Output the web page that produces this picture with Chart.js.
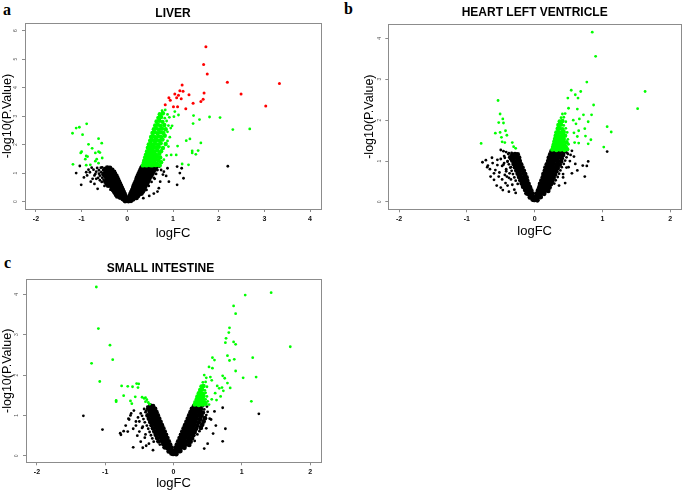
<!DOCTYPE html>
<html>
<head>
<meta charset="utf-8">
<script src="https://cdn.jsdelivr.net/npm/chart.js@4/dist/chart.umd.min.js"></script>
<style>
  body { margin: 0; background: #fff; }
  #page { position: relative; width: 685px; height: 492px; overflow: hidden; }
  canvas { position: absolute; }
  .tag { position: absolute; font: bold 16px "Liberation Serif", "Times New Roman", serif; line-height: 16px; color: #000; }
</style>
</head>
<body>
<div id="page">
  <div class="tag" style="left:3px;top:2px">a</div>
  <div class="tag" style="left:344px;top:1px">b</div>
  <div class="tag" style="left:4px;top:255px">c</div>
  <canvas id="liverChart" width="340" height="245" style="left:0;top:0"></canvas>
  <canvas id="heartChart" width="345" height="245" style="left:340px;top:0"></canvas>
  <canvas id="intestineChart" width="340" height="247" style="left:0;top:245px"></canvas>
</div>
<script>
// tick values of the three panels
var liverXTicks = [-2, -1, 0, 1, 2, 3, 4];
var liverYTicks = [0, 1, 2, 3, 4, 5, 6];
var smallXTicks = [-2, -1, 0, 1, 2];
var smallYTicks = [0, 1, 2, 3, 4];

// LIVER: [logFC, -log10(P.Value)]
var liverRed = [
  [1.72,5.44],[1.67,4.81],[1.75,4.48],[2.19,4.19],[3.33,4.15],[1.20,4.09],[1.15,3.89],[1.22,3.87],
  [1.68,3.81],[1.04,3.78],[1.12,3.73],[1.35,3.75],[2.49,3.78],[0.91,3.65],[1.08,3.65],[0.94,3.56],
  [1.18,3.61],[1.66,3.59],[1.61,3.51],[1.44,3.45],[0.83,3.40],[1.01,3.33],[1.10,3.33],[1.28,3.26],[3.03,3.36]
];
// the crowded green wedge
var liverGreenCore = [
  [0.34,1.27],[0.38,1.29],[0.42,1.27],[0.46,1.30],[0.50,1.28],[0.54,1.27],[0.58,1.30],[0.62,1.28],[0.66,1.29],[0.71,1.27],
  [0.36,1.36],[0.40,1.34],[0.44,1.37],[0.48,1.35],[0.52,1.38],[0.56,1.35],[0.60,1.37],[0.65,1.34],[0.74,1.38],
  [0.37,1.44],[0.41,1.47],[0.45,1.45],[0.49,1.48],[0.53,1.44],[0.57,1.46],[0.62,1.49],[0.68,1.45],
  [0.39,1.55],[0.43,1.57],[0.47,1.54],[0.51,1.58],[0.55,1.56],[0.60,1.53],[0.66,1.57],[0.72,1.55],
  [0.41,1.65],[0.45,1.67],[0.49,1.64],[0.53,1.68],[0.58,1.66],[0.63,1.64],[0.70,1.68],
  [0.43,1.76],[0.47,1.79],[0.51,1.77],[0.55,1.80],[0.60,1.76],[0.66,1.79],[0.74,1.77],
  [0.45,1.89],[0.49,1.92],[0.53,1.88],[0.58,1.91],[0.63,1.89],[0.69,1.92],[0.78,1.88],
  [0.47,2.01],[0.51,2.04],[0.56,2.00],[0.61,2.03],[0.67,2.01],[0.73,2.05],[0.84,2.02],
  [0.50,2.14],[0.54,2.17],[0.59,2.13],[0.64,2.16],[0.70,2.14],[0.77,2.18],
  [0.52,2.27],[0.57,2.30],[0.62,2.26],[0.68,2.29],[0.74,2.27],[0.82,2.31],
  [0.55,2.41],[0.60,2.44],[0.66,2.40],[0.72,2.43],[0.79,2.41],
  [0.58,2.54],[0.63,2.57],[0.69,2.53],[0.76,2.56],[0.84,2.54],
  [0.61,2.67],[0.67,2.70],[0.73,2.66],[0.81,2.69],
  [0.64,2.81],[0.70,2.84],[0.77,2.80],[0.68,2.94],[0.74,2.97],[0.71,3.07],[0.78,3.10]
];
var liverGreenOuter = [
  [0.80,1.47],[0.86,1.62],[0.90,1.93],[0.88,2.13],[0.93,2.26],[0.88,2.45],[0.95,2.58],[0.90,2.67],
  [0.86,2.83],[0.82,2.93],[0.92,2.96],[0.88,3.06],[0.76,3.19],[0.83,3.22],
  [1.45,3.02],[1.80,2.97],[2.03,2.95],[1.58,2.88],[1.44,2.74],[2.31,2.53],[2.68,2.55],[1.04,3.16],
  [1.02,2.98],[1.12,3.04],[0.98,2.66],[1.29,2.14],[1.37,2.20],[1.61,2.06],[1.42,1.78],[1.42,1.71],
  [1.55,1.79],[1.50,1.66],[1.07,1.64],[0.96,1.64],[1.20,1.32],[1.34,1.29],[1.10,1.95],
  [-1.20,2.40],[-1.12,2.58],[-1.05,2.61],[-0.89,2.73],[-0.98,2.35],[-1.19,1.31],[-0.85,2.01],[-1.00,1.75],
  [-1.02,1.71],[-0.77,1.87],[-0.90,1.60],[-0.87,1.58],[-0.92,1.49],[-0.81,1.29],[-0.63,2.21],[-0.56,2.05],
  [-0.63,1.75],[-0.60,1.72],[-0.70,1.71],[-0.55,1.53],[-0.67,1.49],[-0.70,1.42],[-0.63,1.35],[-0.90,1.28]
];
// the crowded black V
var liverBlackCore = [
  [0.01,0.03],[0.03,0.02],[0.05,0.04],[0.08,0.03],
  [0.02,0.08],[0.04,0.09],[0.07,0.07],[0.10,0.09],[0.13,0.08],
  [0.04,0.14],[0.06,0.15],[0.09,0.13],[0.12,0.15],[0.16,0.14],[0.20,0.13],
  [0.05,0.20],[0.08,0.21],[0.11,0.19],[0.14,0.21],[0.18,0.20],[0.23,0.19],
  [0.07,0.27],[0.10,0.28],[0.13,0.26],[0.17,0.28],[0.21,0.27],[0.26,0.26],[0.31,0.28],
  [0.09,0.34],[0.12,0.35],[0.15,0.33],[0.19,0.35],[0.23,0.34],[0.28,0.33],[0.34,0.35],
  [0.11,0.41],[0.14,0.42],[0.17,0.40],[0.21,0.42],[0.25,0.41],[0.30,0.40],[0.36,0.42],
  [0.13,0.48],[0.16,0.49],[0.19,0.47],[0.23,0.49],[0.27,0.48],[0.32,0.47],[0.38,0.49],
  [0.14,0.55],[0.17,0.56],[0.21,0.54],[0.25,0.56],[0.29,0.55],[0.34,0.54],[0.40,0.56],
  [0.16,0.62],[0.19,0.63],[0.23,0.61],[0.27,0.63],[0.31,0.62],[0.36,0.61],[0.43,0.63],
  [0.18,0.69],[0.21,0.70],[0.25,0.68],[0.29,0.70],[0.33,0.69],[0.38,0.68],[0.45,0.70],
  [0.20,0.76],[0.23,0.77],[0.27,0.75],[0.31,0.77],[0.35,0.76],[0.40,0.75],[0.47,0.77],
  [0.21,0.83],[0.25,0.84],[0.29,0.82],[0.33,0.84],[0.37,0.83],[0.42,0.82],[0.49,0.84],
  [0.23,0.90],[0.27,0.91],[0.31,0.89],[0.35,0.91],[0.39,0.90],[0.45,0.89],[0.52,0.91],
  [0.25,0.97],[0.29,0.98],[0.33,0.96],[0.37,0.98],[0.42,0.97],[0.48,0.96],[0.55,0.98],
  [0.27,1.04],[0.31,1.05],[0.35,1.03],[0.39,1.05],[0.44,1.04],[0.50,1.03],[0.57,1.05],
  [0.29,1.11],[0.33,1.12],[0.37,1.10],[0.41,1.12],[0.46,1.11],[0.52,1.10],[0.60,1.12],
  [0.31,1.18],[0.35,1.19],[0.39,1.17],[0.43,1.19],[0.48,1.18],[0.54,1.17],[0.62,1.19],
  [0.33,1.23],[0.37,1.24],[0.41,1.22],[0.45,1.24],[0.50,1.23],[0.56,1.22],[0.64,1.24],
  [-0.01,0.03],[-0.03,0.04],[-0.05,0.02],
  [-0.02,0.08],[-0.04,0.09],[-0.07,0.07],[-0.10,0.09],
  [-0.03,0.14],[-0.06,0.15],[-0.09,0.13],[-0.12,0.15],[-0.16,0.14],
  [-0.05,0.20],[-0.08,0.21],[-0.11,0.19],[-0.14,0.21],[-0.18,0.20],[-0.22,0.18],
  [-0.06,0.27],[-0.09,0.28],[-0.12,0.26],[-0.16,0.28],[-0.20,0.27],[-0.25,0.26],
  [-0.08,0.34],[-0.11,0.35],[-0.14,0.33],[-0.18,0.35],[-0.22,0.34],[-0.28,0.33],
  [-0.10,0.41],[-0.13,0.42],[-0.16,0.40],[-0.20,0.42],[-0.25,0.41],[-0.31,0.40],
  [-0.12,0.48],[-0.15,0.49],[-0.18,0.47],[-0.22,0.49],[-0.27,0.48],[-0.33,0.47],
  [-0.14,0.55],[-0.17,0.56],[-0.20,0.54],[-0.24,0.56],[-0.29,0.55],[-0.35,0.54],[-0.42,0.56],
  [-0.16,0.62],[-0.19,0.63],[-0.22,0.61],[-0.26,0.63],[-0.31,0.62],[-0.37,0.61],[-0.45,0.63],
  [-0.18,0.69],[-0.21,0.70],[-0.24,0.68],[-0.28,0.70],[-0.33,0.69],[-0.40,0.68],[-0.48,0.70],
  [-0.20,0.76],[-0.23,0.77],[-0.26,0.75],[-0.30,0.77],[-0.35,0.76],[-0.42,0.75],
  [-0.22,0.83],[-0.25,0.84],[-0.28,0.82],[-0.32,0.84],[-0.38,0.83],[-0.45,0.82],
  [-0.24,0.90],[-0.27,0.91],[-0.31,0.89],[-0.35,0.91],[-0.41,0.90],[-0.48,0.89],
  [-0.27,0.97],[-0.30,0.98],[-0.34,0.96],[-0.38,0.98],[-0.44,0.97],[-0.52,0.96],
  [-0.29,1.04],[-0.33,1.05],[-0.37,1.03],[-0.42,1.05],[-0.48,1.04],
  [-0.33,1.11],[-0.37,1.12],[-0.42,1.10],[-0.47,1.12],[-0.38,1.18],[-0.44,1.19]
];
var liverBlackOuter = [
  [0.42,0.41],[0.47,0.55],[0.53,0.69],[0.58,0.83],[0.63,0.97],[0.66,1.11],[0.70,1.23],
  [-0.26,0.21],[-0.37,0.42],[-0.50,0.55],[-0.56,0.69],[-0.52,0.77],[-0.55,0.84],[-0.64,0.83],
  [-0.60,0.91],[-0.62,0.98],[-0.70,0.97],[-0.57,1.03],[-0.68,1.05],[-0.53,1.11],[-0.62,1.10],
  [-0.74,1.12],[-0.50,1.17],[-0.58,1.19],[-0.66,1.18],
  [-1.04,1.25],[-1.12,1.00],[-1.01,0.59],[-0.90,1.03],[-0.78,1.19],[-0.82,1.03],[-0.95,0.85],[-0.88,0.92],
  [-0.76,0.80],[-0.72,0.62],[-0.65,0.45],[-0.85,1.12],[-0.72,0.92],[-0.68,0.80],[-0.60,0.75],[-0.55,1.20],[-0.80,0.70],
  [2.20,1.24],[1.09,1.23],[1.19,1.17],[0.88,1.17],[1.15,1.00],[0.85,0.90],[1.23,0.82],[0.91,0.70],
  [1.09,0.59],[0.72,0.70],[0.69,0.47],[0.74,1.11],[0.80,1.05],[0.78,0.95],[0.66,0.35],[0.60,0.80],
  [0.58,0.28],[0.48,0.20],[0.35,0.12]
];

// HEART LEFT VENTRICLE
var heartGreenCore = [
  [0.26,1.28],[0.29,1.30],[0.32,1.27],[0.35,1.29],[0.38,1.28],[0.41,1.30],[0.44,1.27],[0.48,1.29],
  [0.27,1.34],[0.30,1.35],[0.33,1.33],[0.36,1.35],[0.39,1.34],[0.42,1.33],[0.46,1.35],
  [0.28,1.40],[0.31,1.41],[0.34,1.39],[0.37,1.41],[0.40,1.40],[0.44,1.39],
  [0.29,1.47],[0.32,1.48],[0.35,1.46],[0.38,1.48],[0.42,1.47],[0.47,1.46],
  [0.30,1.54],[0.33,1.55],[0.36,1.53],[0.39,1.55],[0.43,1.54],
  [0.31,1.62],[0.34,1.63],[0.37,1.61],[0.41,1.63],[0.45,1.62],
  [0.32,1.70],[0.35,1.71],[0.39,1.69],[0.43,1.71],
  [0.34,1.79],[0.37,1.80],[0.41,1.78],[0.35,1.88],[0.39,1.89],[0.37,1.97],[0.41,1.98]
];
var heartGreenOuter = [
  [0.50,1.41],[0.49,1.53],[0.48,1.70],[0.46,1.80],[0.43,1.87],[0.46,1.96],[0.39,2.06],[0.43,2.07],
  [0.41,2.15],[0.45,2.16],
  [0.85,4.15],[0.90,3.56],[0.77,2.93],[1.63,2.70],[0.54,2.73],[0.68,2.70],[0.60,2.62],[0.49,2.54],
  [0.64,2.54],[1.52,2.28],[0.87,2.37],[0.50,2.29],[0.63,2.27],[1.07,1.84],[1.13,1.71],[1.02,1.34],
  [0.79,1.42],[0.83,1.52],[0.75,1.61],[0.84,2.13],[0.79,1.96],[0.74,1.79],[0.72,2.13],[0.66,2.03],
  [0.57,2.00],[0.61,1.91],[0.65,1.74],[0.58,1.69],[0.63,1.60],[0.59,1.45],[0.65,1.44],
  [-0.54,2.48],[-0.51,2.15],[-0.47,2.03],[-0.53,1.94],[-0.46,1.93],[-0.58,1.68],[-0.51,1.70],[-0.43,1.74],
  [-0.49,1.58],[-0.41,1.63],[-0.48,1.47],[-0.44,1.45],[-0.33,1.45],[-0.31,1.35],[-0.28,1.31],[-0.79,1.43]
];
var heartBlackCore = [
  [0.00,0.05],[0.02,0.06],[0.04,0.04],
  [0.02,0.12],[0.04,0.13],[0.06,0.11],[0.09,0.12],
  [0.03,0.20],[0.05,0.21],[0.08,0.19],[0.11,0.21],[0.14,0.20],
  [0.05,0.28],[0.07,0.29],[0.10,0.27],[0.13,0.29],[0.16,0.28],[0.20,0.27],
  [0.07,0.36],[0.09,0.37],[0.12,0.35],[0.15,0.37],[0.18,0.36],[0.22,0.35],
  [0.08,0.44],[0.11,0.45],[0.14,0.43],[0.17,0.45],[0.20,0.44],[0.24,0.43],
  [0.10,0.52],[0.13,0.53],[0.16,0.51],[0.19,0.53],[0.22,0.52],[0.26,0.51],
  [0.12,0.60],[0.15,0.61],[0.18,0.59],[0.21,0.61],[0.24,0.60],[0.28,0.59],
  [0.13,0.68],[0.16,0.69],[0.19,0.67],[0.22,0.69],[0.26,0.68],[0.30,0.67],
  [0.15,0.76],[0.18,0.77],[0.21,0.75],[0.24,0.77],[0.28,0.76],[0.32,0.75],
  [0.16,0.84],[0.19,0.85],[0.22,0.83],[0.26,0.85],[0.30,0.84],[0.34,0.83],
  [0.18,0.92],[0.21,0.93],[0.24,0.91],[0.28,0.93],[0.32,0.92],[0.37,0.91],
  [0.20,1.00],[0.23,1.01],[0.26,0.99],[0.30,1.01],[0.34,1.00],[0.39,0.99],
  [0.21,1.08],[0.24,1.09],[0.27,1.07],[0.31,1.09],[0.35,1.08],[0.40,1.07],
  [0.23,1.16],[0.26,1.17],[0.29,1.15],[0.33,1.17],[0.37,1.16],[0.42,1.15],
  [0.25,1.24],[0.28,1.25],[0.31,1.23],[0.35,1.25],[0.39,1.24],[0.44,1.23],
  [-0.01,0.05],[-0.03,0.06],
  [-0.02,0.12],[-0.04,0.13],[-0.07,0.11],
  [-0.03,0.20],[-0.06,0.21],[-0.09,0.19],[-0.12,0.21],
  [-0.05,0.28],[-0.08,0.29],[-0.11,0.27],[-0.14,0.29],
  [-0.07,0.36],[-0.10,0.37],[-0.13,0.35],[-0.17,0.37],
  [-0.09,0.44],[-0.12,0.45],[-0.15,0.43],[-0.19,0.45],
  [-0.11,0.52],[-0.14,0.53],[-0.17,0.51],[-0.21,0.53],
  [-0.12,0.60],[-0.15,0.61],[-0.19,0.59],[-0.23,0.61],
  [-0.14,0.68],[-0.17,0.69],[-0.21,0.67],[-0.25,0.69],
  [-0.16,0.76],[-0.19,0.77],[-0.23,0.75],[-0.27,0.77],
  [-0.18,0.84],[-0.21,0.85],[-0.25,0.83],[-0.29,0.85],
  [-0.20,0.92],[-0.23,0.93],[-0.27,0.91],[-0.31,0.93],
  [-0.22,1.00],[-0.25,1.01],[-0.29,0.99],[-0.33,1.01],
  [-0.23,1.08],[-0.27,1.09],[-0.31,1.07],[-0.36,1.09],
  [-0.25,1.16],[-0.29,1.17],[-0.33,1.15]
];
var heartBlackOuter = [
  [0.29,0.45],[0.31,0.53],[0.34,0.61],[0.36,0.69],[0.42,0.68],[0.38,0.77],[0.40,0.85],[0.47,0.84],
  [0.43,0.93],[0.45,1.01],[0.52,1.00],[0.47,1.09],[0.49,1.17],
  [-0.25,0.44],[-0.28,0.52],[-0.30,0.60],[-0.38,0.59],[-0.32,0.68],[-0.34,0.76],[-0.42,0.75],
  [-0.36,0.84],[-0.38,0.92],[-0.46,0.91],[-0.40,1.00],[-0.44,1.08],[-0.39,1.17],
  [-0.77,0.97],[-0.69,0.89],[-0.63,1.08],[-0.55,1.03],[-0.50,1.27],[-0.46,1.24],[-0.38,1.19],[-0.53,0.62],
  [-0.60,0.54],[-0.43,0.46],[-0.38,0.25],[-0.47,0.29],[-0.72,1.02],[-0.66,0.80],[-0.58,0.78],[-0.48,0.88],
  [-0.52,0.72],[-0.44,0.66],[-0.40,0.98],[-0.35,0.55],[-0.56,0.40],[-0.62,0.95],[-0.45,1.12],[-0.42,0.80],
  [-0.33,0.42],[-0.30,0.30],[-0.35,0.85],[-0.37,0.70],[-0.41,0.62],[-0.45,0.95],[-0.50,1.05],[-0.55,0.90],
  [-0.48,0.55],[-0.40,0.40],[-0.36,1.05],[-0.34,1.20],[-0.42,1.22],[-0.60,0.70],[-0.65,0.62],[-0.70,0.85],
  [-0.50,0.35],[-0.28,0.22],
  [1.07,1.23],[0.79,0.99],[0.71,0.89],[0.77,0.88],[0.74,0.62],[0.63,0.77],[0.55,0.70],[0.45,0.46],
  [0.58,1.11],[0.53,1.15],[0.60,0.93],[0.50,0.85],[0.48,1.20],[0.55,1.25],[0.42,0.60],[0.36,0.40]
];

// SMALL INTESTINE
var intestineGreenCore = [
  [0.31,1.27],[0.34,1.28],[0.37,1.26],[0.40,1.28],[0.43,1.27],[0.47,1.29],
  [0.32,1.33],[0.35,1.34],[0.38,1.32],[0.41,1.34],[0.45,1.33],
  [0.34,1.40],[0.37,1.41],[0.40,1.39],[0.43,1.41],
  [0.35,1.47],[0.38,1.48],[0.41,1.46],[0.44,1.48],
  [0.37,1.55],[0.40,1.56],[0.43,1.54],[0.39,1.63],[0.42,1.64],[0.41,1.72],[0.44,1.73]
];
var intestineGreenOuter = [
  [0.52,1.27],[0.50,1.35],[0.47,1.40],[0.49,1.47],[0.47,1.56],[0.46,1.62],[0.49,1.71],[0.43,1.82],[0.47,1.83],
  [1.05,3.98],[1.43,4.04],[0.88,3.71],[0.91,3.52],[0.82,3.17],[0.81,3.05],[0.77,2.91],[0.76,2.80],
  [0.88,2.82],[0.91,2.76],[1.71,2.70],[1.16,2.43],[0.57,2.43],[0.60,2.37],[0.79,2.48],[0.82,2.36],
  [0.89,2.39],[0.91,2.10],[1.02,1.93],[1.21,1.95],[1.14,1.35],[0.72,1.98],[0.75,1.92],[0.79,1.80],
  [0.83,1.68],[0.71,1.69],[0.73,1.61],[0.69,1.47],[0.52,2.20],[0.57,2.17],[0.45,2.00],[0.48,1.93],
  [0.54,1.95],[0.56,1.87],[0.64,1.73],[0.67,1.67],[0.61,1.55],[0.63,1.38],[0.56,1.40],
  [-1.13,4.18],[-1.10,3.15],[-0.93,2.74],[-0.89,2.38],[-1.20,2.29],[-1.08,1.84],
  [-0.76,1.73],[-0.67,1.72],[-0.60,1.71],[-0.54,1.79],[-0.51,1.78],[-0.52,1.69],[-0.73,1.49],[-0.84,1.37],
  [-0.84,1.34],[-0.63,1.36],[-0.61,1.29],[-0.56,1.46],[-0.46,1.45],[-0.43,1.42],[-0.41,1.44],[-0.39,1.39],
  [-0.37,1.32],[-0.35,1.28],[-0.41,1.34]
];
var intestineBlackCore = [
  [0.00,0.05],[0.02,0.06],[0.04,0.04],
  [0.02,0.12],[0.04,0.13],[0.07,0.11],[0.10,0.12],
  [0.03,0.20],[0.06,0.21],[0.09,0.19],[0.12,0.21],[0.16,0.20],
  [0.05,0.28],[0.08,0.29],[0.11,0.27],[0.14,0.29],[0.18,0.28],[0.23,0.27],
  [0.07,0.36],[0.10,0.37],[0.13,0.35],[0.16,0.37],[0.20,0.36],[0.25,0.35],
  [0.09,0.44],[0.12,0.45],[0.15,0.43],[0.18,0.45],[0.22,0.44],[0.27,0.43],
  [0.11,0.52],[0.14,0.53],[0.17,0.51],[0.20,0.53],[0.24,0.52],[0.29,0.51],
  [0.13,0.60],[0.16,0.61],[0.19,0.59],[0.22,0.61],[0.26,0.60],[0.31,0.59],
  [0.15,0.68],[0.18,0.69],[0.21,0.67],[0.24,0.69],[0.28,0.68],[0.33,0.67],[0.40,0.69],
  [0.17,0.76],[0.20,0.77],[0.23,0.75],[0.26,0.77],[0.30,0.76],[0.35,0.75],[0.42,0.77],
  [0.19,0.84],[0.22,0.85],[0.25,0.83],[0.28,0.85],[0.32,0.84],[0.37,0.83],[0.44,0.85],
  [0.21,0.92],[0.24,0.93],[0.27,0.91],[0.30,0.93],[0.34,0.92],[0.39,0.91],[0.46,0.93],
  [0.23,1.00],[0.26,1.01],[0.29,0.99],[0.32,1.01],[0.36,1.00],[0.41,0.99],
  [0.25,1.08],[0.28,1.09],[0.31,1.07],[0.34,1.09],[0.38,1.08],[0.43,1.07],
  [0.27,1.16],[0.30,1.17],[0.33,1.15],[0.36,1.17],[0.40,1.16],
  [0.30,1.23],[0.33,1.24],[0.36,1.22],[0.39,1.24],
  [-0.01,0.05],[-0.03,0.06],
  [-0.02,0.12],[-0.04,0.13],[-0.07,0.11],
  [-0.03,0.20],[-0.06,0.21],[-0.09,0.19],[-0.13,0.21],
  [-0.05,0.28],[-0.08,0.29],[-0.11,0.27],[-0.15,0.29],
  [-0.07,0.36],[-0.10,0.37],[-0.13,0.35],[-0.17,0.37],[-0.22,0.36],
  [-0.09,0.44],[-0.12,0.45],[-0.15,0.43],[-0.19,0.45],[-0.24,0.44],
  [-0.11,0.52],[-0.14,0.53],[-0.17,0.51],[-0.21,0.53],[-0.26,0.52],
  [-0.13,0.60],[-0.16,0.61],[-0.19,0.59],[-0.23,0.61],[-0.28,0.60],
  [-0.15,0.68],[-0.18,0.69],[-0.21,0.67],[-0.25,0.69],[-0.30,0.68],
  [-0.17,0.76],[-0.20,0.77],[-0.23,0.75],[-0.27,0.77],[-0.32,0.76],
  [-0.19,0.84],[-0.22,0.85],[-0.25,0.83],[-0.29,0.85],[-0.34,0.84],
  [-0.21,0.92],[-0.24,0.93],[-0.27,0.91],[-0.31,0.93],[-0.36,0.92],
  [-0.23,1.00],[-0.26,1.01],[-0.29,0.99],[-0.33,1.01],[-0.38,1.00],
  [-0.25,1.08],[-0.28,1.09],[-0.31,1.07],[-0.35,1.09],
  [-0.27,1.16],[-0.30,1.17],[-0.33,1.15],[-0.37,1.17],[-0.30,1.23],[-0.34,1.24]
];
var intestineBlackOuter = [
  [0.31,0.37],[0.35,0.53],[0.38,0.61],[0.48,0.68],[0.53,0.92],[0.48,1.01],[0.50,1.09],[0.45,1.15],
  [0.43,1.23],[0.49,1.22],
  [-0.20,0.28],[-0.29,0.35],[-0.31,0.43],[-0.33,0.51],[-0.41,0.53],[-0.35,0.59],[-0.37,0.67],[-0.46,0.69],
  [-0.39,0.75],[-0.42,0.83],[-0.50,0.85],[-0.44,0.91],[-0.46,0.99],[-0.41,1.08],[-0.43,1.16],[-0.38,1.22],
  [-1.32,0.99],[-1.04,0.65],[-0.77,0.52],[-0.67,0.60],[-0.59,0.67],[-0.62,1.05],[-0.58,1.12],[-0.55,0.85],
  [-0.48,0.35],[-0.45,0.20],[-0.52,0.95],[-0.40,0.25],[-0.65,0.90],[-0.70,0.75],[-0.66,0.92],[-0.63,1.00],
  [-0.78,0.56],[-0.73,0.61],[-0.59,0.21],[-0.30,0.14],[-0.50,0.60],[-0.45,0.72],[-0.42,0.45],[-0.55,0.75],
  [-0.48,1.05],[-0.53,0.50],[-0.36,0.30],[-0.40,1.12],
  [1.25,1.04],[0.72,1.19],[0.76,0.67],[0.72,0.36],[0.55,0.90],[0.60,1.10],[0.58,0.55],[0.50,0.30],
  [0.62,0.75],[0.45,0.18]
];

function toPoints(pairs) {
  return pairs.map(function (p) { return { x: p[0], y: p[1] }; });
}

// grey frame round the plot region, like R's box()
var boxPlugin = {
  id: 'plotBox',
  afterDraw: function (chart) {
    var a = chart.chartArea;
    var c = chart.ctx;
    c.save();
    c.strokeStyle = '#8c8c8c';
    c.lineWidth = 1;
    c.strokeRect(Math.round(a.left) + 0.5, Math.round(a.top) + 0.5,
      Math.round(a.right - a.left), Math.round(a.bottom - a.top));
    c.restore();
  }
};

// crowded parts get a fatter dot so the wedge reads as solid, like the overplotted original
function series(points, color, radius) {
  return { data: toPoints(points), backgroundColor: color, pointRadius: radius, borderWidth: 0 };
}

function makeVolcano(id, cfg) {
  return new Chart(document.getElementById(id), {
    type: 'scatter',
    data: { datasets: cfg.datasets },
    options: {
      responsive: false,
      animation: false,
      events: [],
      layout: { padding: cfg.padding },
      plugins: {
        legend: { display: false },
        tooltip: { enabled: false },
        title: {
          display: true, text: cfg.title, color: '#000', fullSize: cfg.titleFull,
          font: { size: 12, weight: 'bold' }, padding: cfg.titlePad
        }
      },
      scales: {
        x: {
          type: 'linear', min: cfg.xMin, max: cfg.xMax,
          afterBuildTicks: function (s) { s.ticks = cfg.xTicks.map(function (v) { return { value: v }; }); },
          afterFit: function (s) { s.height = cfg.xHeight; },
          border: { display: false },
          grid: { drawOnChartArea: false, drawTicks: true, tickLength: 3, color: '#8c8c8c' },
          ticks: { autoSkip: false, maxRotation: 0, padding: cfg.xTickPad, color: '#111', font: { size: 7, weight: 'bold' } },
          title: { display: true, text: 'logFC', color: '#000', font: { size: 13 }, padding: { top: 0, bottom: cfg.xTitlePad } }
        },
        y: {
          type: 'linear', min: cfg.yMin, max: cfg.yMax,
          afterBuildTicks: function (s) { s.ticks = cfg.yTicks.map(function (v) { return { value: v }; }); },
          afterFit: function (s) { s.width = cfg.yWidth; },
          border: { display: false },
          grid: { drawOnChartArea: false, drawTicks: true, tickLength: 3, color: '#8c8c8c' },
          ticks: { autoSkip: false, minRotation: 90, maxRotation: 90, crossAlign: 'center', padding: cfg.yTickPad, color: '#555', font: { size: 5 } },
          title: { display: true, text: '-log10(P.Value)', color: '#000', font: { size: 12.5 }, padding: { top: cfg.yTitlePad, bottom: 0 } }
        }
      }
    },
    plugins: [boxPlugin]
  });
}

Chart.defaults.font.family = '"Liberation Sans", Arial, Helvetica, sans-serif';

makeVolcano('liverChart', {
  title: 'LIVER', titleFull: false, titlePad: { top: 6.8, bottom: 1.8 },
  datasets: [
    series(liverRed, '#ff0000', 1.5), series(liverGreenOuter, '#00ff00', 1.4), series(liverGreenCore, '#00ff00', 2.2),
    series(liverBlackOuter, '#000000', 1.4), series(liverBlackCore, '#000000', 2.4)
  ],
  xMin: -2.24, xMax: 4.24, yMin: -0.26, yMax: 6.27, xTicks: liverXTicks, yTicks: liverYTicks,
  padding: { left: 0, right: 19, top: 0, bottom: 0 },
  xHeight: 36, yWidth: 25, xTickPad: 2.8, xTitlePad: 3.9, yTickPad: 4.5, yTitlePad: 0.5
});

makeVolcano('heartChart', {
  title: 'HEART LEFT VENTRICLE', titleFull: false, titlePad: { top: 5.5, bottom: 4.1 },
  datasets: [
    series(heartGreenOuter, '#00ff00', 1.4), series(heartGreenCore, '#00ff00', 2.2),
    series(heartBlackOuter, '#000000', 1.4), series(heartBlackCore, '#000000', 2.4)
  ],
  xMin: -2.16, xMax: 2.16, yMin: -0.18, yMax: 4.35, xTicks: smallXTicks, yTicks: smallYTicks,
  padding: { left: 0, right: 1.7, top: 0, bottom: 0 },
  xHeight: 35.7, yWidth: 48.3, xTickPad: 2.5, xTitlePad: 6.2, yTickPad: 4.5, yTitlePad: 21.8
});

makeVolcano('intestineChart', {
  title: 'SMALL INTESTINE', titleFull: true, titlePad: { top: 16.8, bottom: 3.1 },
  datasets: [
    series(intestineGreenOuter, '#00ff00', 1.4), series(intestineGreenCore, '#00ff00', 2.2),
    series(intestineBlackOuter, '#000000', 1.4), series(intestineBlackCore, '#000000', 2.4)
  ],
  xMin: -2.16, xMax: 2.16, yMin: -0.16, yMax: 4.37, xTicks: smallXTicks, yTicks: smallYTicks,
  padding: { left: 0, right: 19, top: 0, bottom: 0 },
  xHeight: 29.7, yWidth: 26, xTickPad: 2.8, xTitlePad: 0.9, yTickPad: 4.8, yTitlePad: 0
});
</script>
</body>
</html>
